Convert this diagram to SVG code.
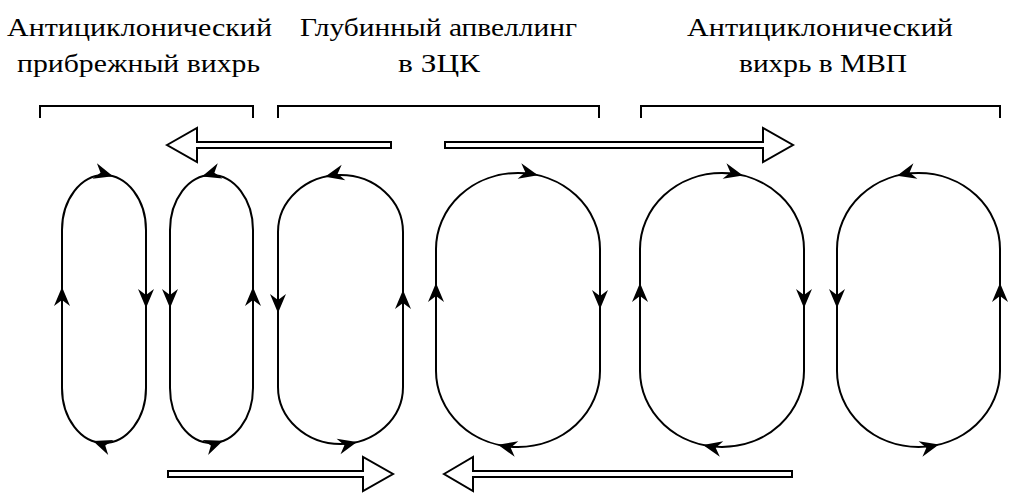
<svg xmlns="http://www.w3.org/2000/svg" width="1014" height="498" viewBox="0 0 1014 498">
<rect width="1014" height="498" fill="#fff"/>
<g id="labels" fill="#000">
<g id="label-coastal">
<text x="139.5" y="35.5" text-anchor="middle" font-size="26" textLength="265" lengthAdjust="spacingAndGlyphs" font-family="'Liberation Serif', serif">Антициклонический</text>
<text x="138.5" y="72" text-anchor="middle" font-size="26" textLength="243" lengthAdjust="spacingAndGlyphs" font-family="'Liberation Serif', serif">прибрежный вихрь</text>
</g>
<g id="label-upwelling">
<text x="438.5" y="35.5" text-anchor="middle" font-size="26" textLength="277" lengthAdjust="spacingAndGlyphs" font-family="'Liberation Serif', serif">Глубинный апвеллинг</text>
<text x="439" y="72" text-anchor="middle" font-size="26" textLength="82" lengthAdjust="spacingAndGlyphs" font-family="'Liberation Serif', serif">в ЗЦК</text>
</g>
<g id="label-mvp">
<text x="820" y="35.5" text-anchor="middle" font-size="26" textLength="266" lengthAdjust="spacingAndGlyphs" font-family="'Liberation Serif', serif">Антициклонический</text>
<text x="823" y="72" text-anchor="middle" font-size="26" textLength="168" lengthAdjust="spacingAndGlyphs" font-family="'Liberation Serif', serif">вихрь в МВП</text>
</g>
</g>
<g id="brackets" fill="none" stroke="#000" stroke-width="2">
<path d="M40,118 V106 H253 V118"/>
<path d="M278,118 V106 H599 V118"/>
<path d="M641,118 V106 H1000 V118"/>
</g>
<g id="loop1">
<path fill="none" stroke="#000" stroke-width="2" d="M62,230 A42 55 0 0 1 146,230 V388 A42 55 0 0 1 62,388 Z"/>
<g fill="#000">
<polygon points="0,0 -19,-8 -13,0 -19,8" transform="translate(113,176.3) rotate(16)"/>
<polygon points="0,0 -19,-8 -13,0 -19,8" transform="translate(146,308) rotate(90)"/>
<polygon points="0,0 -19,-8 -13,0 -19,8" transform="translate(93,441.1) rotate(199.6)"/>
<polygon points="0,0 -19,-8 -13,0 -19,8" transform="translate(62,287) rotate(-90)"/>
</g>
</g>
<g id="loop2">
<path fill="none" stroke="#000" stroke-width="2" d="M170,230 A41.5 55 0 0 1 253,230 V388 A41.5 55 0 0 1 170,388 Z"/>
<g fill="#000">
<polygon points="0,0 -19,-8 -13,0 -19,8" transform="translate(202,176.5) rotate(162.7)"/>
<polygon points="0,0 -19,-8 -13,0 -19,8" transform="translate(170,308) rotate(90)"/>
<polygon points="0,0 -19,-8 -13,0 -19,8" transform="translate(223,440.8) rotate(-20.9)"/>
<polygon points="0,0 -19,-8 -13,0 -19,8" transform="translate(253,287) rotate(-90)"/>
</g>
</g>
<g id="loop3">
<path fill="none" stroke="#000" stroke-width="2" d="M278,232 A62.5 57 0 0 1 403,232 V387 A62.5 57 0 0 1 278,387 Z"/>
<g fill="#000">
<polygon points="0,0 -19,-8 -13,0 -19,8" transform="translate(325,176.8) rotate(166.8)"/>
<polygon points="0,0 -19,-8 -13,0 -19,8" transform="translate(278,313) rotate(90)"/>
<polygon points="0,0 -19,-8 -13,0 -19,8" transform="translate(357,442) rotate(-14)"/>
<polygon points="0,0 -19,-8 -13,0 -19,8" transform="translate(403,290) rotate(-90)"/>
</g>
</g>
<g id="loop4">
<path fill="none" stroke="#000" stroke-width="2" d="M436,249 A82 76 0 0 1 600,249 V371 A82 76 0 0 1 436,371 Z"/>
<g fill="#000">
<polygon points="0,0 -19,-8 -13,0 -19,8" transform="translate(538,175.3) rotate(13.1)"/>
<polygon points="0,0 -19,-8 -13,0 -19,8" transform="translate(600,309) rotate(90)"/>
<polygon points="0,0 -19,-8 -13,0 -19,8" transform="translate(498,444.7) rotate(193.1)"/>
<polygon points="0,0 -19,-8 -13,0 -19,8" transform="translate(436,283) rotate(-90)"/>
</g>
</g>
<g id="loop5">
<path fill="none" stroke="#000" stroke-width="2" d="M640,249 A82 76 0 0 1 804,249 V371 A82 76 0 0 1 640,371 Z"/>
<g fill="#000">
<polygon points="0,0 -19,-8 -13,0 -19,8" transform="translate(743,175.5) rotate(13.8)"/>
<polygon points="0,0 -19,-8 -13,0 -19,8" transform="translate(804,308) rotate(90)"/>
<polygon points="0,0 -19,-8 -13,0 -19,8" transform="translate(703,444.9) rotate(192.5)"/>
<polygon points="0,0 -19,-8 -13,0 -19,8" transform="translate(640,283) rotate(-90)"/>
</g>
</g>
<g id="loop6">
<path fill="none" stroke="#000" stroke-width="2" d="M837,249 A81.5 76 0 0 1 1000,249 V371 A81.5 76 0 0 1 837,371 Z"/>
<g fill="#000">
<polygon points="0,0 -19,-8 -13,0 -19,8" transform="translate(897,175.7) rotate(165.7)"/>
<polygon points="0,0 -19,-8 -13,0 -19,8" transform="translate(837,308) rotate(90)"/>
<polygon points="0,0 -19,-8 -13,0 -19,8" transform="translate(939,444.6) rotate(-13.6)"/>
<polygon points="0,0 -19,-8 -13,0 -19,8" transform="translate(1000,283) rotate(-90)"/>
</g>
</g>
<g id="connectors" fill="#fff" stroke="#000" stroke-width="2">
<polygon points="167,145 197,128 197,142 391,142 391,148 197,148 197,162"/>
<polygon points="445,142 763,142 763,128 793,145 763,162 763,148 445,148"/>
<polygon points="168,471 363,471 363,457 393,474 363,491 363,477 168,477"/>
<polygon points="444,474 473,457 473,471 792,471 792,477 473,477 473,491"/>
</g>
</svg>
